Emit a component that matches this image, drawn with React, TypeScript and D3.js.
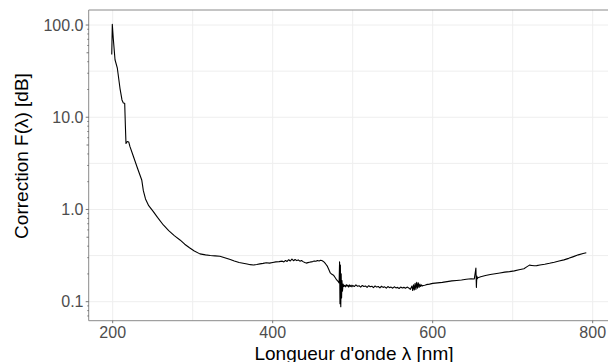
import { useMemo } from "react";
import * as d3 from "d3";

// spectrum (nm -> dB)
const wavelength = [
  198.8, 199.5, 200.7, 202.9, 205.8, 209.1, 211.6, 213.3, 215, 215.8, 216.6, 218.3, 220, 221.6,
  225.8, 231, 236.3, 238.3, 241, 245, 250.8, 256, 263.3, 270, 277, 284.1, 290, 296, 302, 309,
  316, 322, 328, 334, 340, 346, 352, 358, 363, 368, 372, 376, 380, 384, 388, 392, 396, 400,
  404, 408, 412, 414, 416, 418, 420, 422, 424, 426, 428, 430, 432, 434, 436, 438, 440, 442,
  444, 446, 448, 450, 452, 454, 456, 458, 460, 462, 464, 466, 468, 470, 472, 474, 476, 478,
  480, 482, 483, 483.6, 484.1, 484.6, 485.1, 485.6, 486.1, 486.6, 487.2, 488, 489,
  490, 491, 492, 493, 494, 495, 496, 497, 498, 499, 500, 502, 504, 506, 508, 510, 512, 514,
  516, 518, 520, 522, 524, 526, 528, 530, 532, 534, 536, 538, 540, 542, 544, 546, 548, 550,
  552, 554, 556, 558, 560, 562, 564, 566, 568, 570, 572, 574, 575, 576, 577, 578, 579, 580,
  581, 582, 583, 584, 585, 586, 587, 588, 590, 592, 596, 600, 606, 612, 618, 624, 630, 636,
  642, 648, 652, 654, 654.6, 655.2, 655.8, 656.5, 660, 666, 672, 678, 684, 690, 696, 702, 708,
  714, 718, 721, 724, 727, 730, 734, 740, 746, 752, 758, 764, 770, 776, 782, 788, 792, 794,
];

const correction = [
  48, 102, 72, 42, 34, 20.6, 15.4, 14.3, 14.2, 8.3, 5.2, 5.45, 5.4, 4.8,
  3.78, 2.8, 2.09, 1.6, 1.3, 1.1, 0.946, 0.82, 0.679, 0.59, 0.52, 0.467, 0.42, 0.385, 0.355, 0.33,
  0.322, 0.317, 0.314, 0.311, 0.3, 0.288, 0.276, 0.266, 0.261, 0.256, 0.252, 0.25, 0.253, 0.257, 0.26, 0.264, 0.262, 0.266,
  0.27, 0.272, 0.275, 0.27, 0.28, 0.273, 0.285, 0.276, 0.29, 0.278, 0.287, 0.279, 0.284, 0.275, 0.28, 0.272, 0.266, 0.262,
  0.265, 0.268, 0.27, 0.272, 0.276, 0.274, 0.279, 0.276, 0.281, 0.278, 0.27, 0.258, 0.245, 0.225, 0.205, 0.198, 0.194, 0.183,
  0.172, 0.165, 0.16, 0.27, 0.095, 0.25, 0.088, 0.2, 0.11, 0.17, 0.13, 0.155, 0.146,
  0.15, 0.145, 0.153, 0.147, 0.151, 0.144, 0.152, 0.146, 0.151, 0.145, 0.15, 0.146, 0.152, 0.147, 0.149, 0.144, 0.15, 0.146,
  0.148, 0.143, 0.149, 0.145, 0.147, 0.142, 0.148, 0.144, 0.146, 0.141, 0.147, 0.143, 0.145, 0.14, 0.146, 0.142, 0.144, 0.14,
  0.145, 0.141, 0.143, 0.139, 0.144, 0.141, 0.143, 0.14, 0.144, 0.141, 0.136, 0.148, 0.132, 0.152, 0.134, 0.158, 0.136, 0.162,
  0.14, 0.16, 0.143, 0.155, 0.146, 0.152, 0.148, 0.15, 0.151, 0.153, 0.155, 0.158, 0.16, 0.162, 0.165, 0.168, 0.17,
  0.172, 0.175, 0.177, 0.176, 0.232, 0.143, 0.19, 0.178, 0.182, 0.186, 0.192, 0.197, 0.201, 0.205, 0.209, 0.212, 0.216,
  0.222, 0.228, 0.24, 0.249, 0.247, 0.245, 0.246, 0.25, 0.255, 0.261, 0.268, 0.276, 0.284, 0.295, 0.308, 0.322, 0.333, 0.34,
];

const xTicks = [200, 400, 600, 800];
const xGrid = [200, 300, 400, 500, 600, 700, 800];
const yTicks = [0.1, 1, 10, 100];
const yTickLabels = ["0.1", "1.0", "10.0", "100.0"];
const yMinorGrid = [0.316, 3.16, 31.6];
const decades = [0.01, 0.1, 1, 10, 100];

const W = 608;
const H = 362;
const left = 88.7;
const top = 10;
const bottom = 320.7;
const right = 620;

export default function App() {
  const x = d3.scaleLinear().domain([170, 820]).range([left, 608.7]);
  const y = d3.scaleLog().domain([0.0622, 145.5]).range([bottom, top]);

  const path = useMemo(() => {
    const pts = wavelength.map((w, i) => [w, correction[i]] as [number, number]);
    return d3
      .line<[number, number]>()
      .x((d) => x(d[0]))
      .y((d) => y(d[1]))(pts);
  }, []);

  // log ticks on the left side
  const logTicks: { v: number; len: number }[] = [];
  decades.forEach((d) => {
    for (let k = 1; k <= 9; k++) {
      const v = d * k;
      if (v < 0.0622 || v > 145.5) continue;
      logTicks.push({ v, len: k === 1 ? 3 : k === 5 ? 2.2 : 1.4 });
    }
  });

  const font = "'Liberation Sans', Arial, sans-serif";

  return (
    <svg
      width={W}
      height={H}
      style={{ position: "absolute", left: 0, top: 0, background: "#fff" }}
    >
      <g>
        {xGrid.map((v) => (
          <line key={"xg" + v} x1={x(v)} x2={x(v)} y1={top} y2={bottom} stroke="#EEEEEE" strokeWidth={1} />
        ))}
        {yTicks.concat(yMinorGrid).map((v) => (
          <line key={"yg" + v} x1={left} x2={right} y1={y(v)} y2={y(v)} stroke="#EEEEEE" strokeWidth={1} />
        ))}
      </g>

      <path d={path ?? ""} fill="none" stroke="#000" strokeWidth={1.1} strokeLinejoin="round" />

      {/* panel border */}
      <line x1={left} x2={right} y1={top} y2={top} stroke="#8A8A8A" strokeWidth={1} />
      <line x1={left} x2={left} y1={top} y2={bottom} stroke="#8A8A8A" strokeWidth={1} />
      <line x1={left} x2={right} y1={bottom} y2={bottom} stroke="#8A8A8A" strokeWidth={1} />

      {logTicks.map((t) => (
        <line
          key={"lt" + t.v}
          x1={left - t.len}
          x2={left}
          y1={y(t.v)}
          y2={y(t.v)}
          stroke="#555"
          strokeWidth={0.8}
        />
      ))}

      {xTicks.map((v) => (
        <g key={"xt" + v}>
          <line x1={x(v)} x2={x(v)} y1={bottom} y2={bottom + 2.5} stroke="#555" strokeWidth={0.8} />
          <text
            x={x(v)}
            y={337.5}
            textAnchor="middle"
            fontFamily={font}
            fontSize={16}
            fill="#4D4D4D"
          >
            {v}
          </text>
        </g>
      ))}

      {yTicks.map((v, i) => (
        <text
          key={"yt" + v}
          x={83.5}
          y={y(v)}
          dy="0.36em"
          textAnchor="end"
          fontFamily={font}
          fontSize={16}
          fill="#4D4D4D"
        >
          {yTickLabels[i]}
        </text>
      ))}

      <text x={354} y={359.5} textAnchor="middle" fontFamily={font} fontSize={19} fill="#000">
        Longueur d'onde λ [nm]
      </text>
      <text
        transform="translate(27.5,156) rotate(-90)"
        textAnchor="middle"
        fontFamily={font}
        fontSize={19}
        fill="#000"
      >
        Correction F(λ) [dB]
      </text>
    </svg>
  );
}
